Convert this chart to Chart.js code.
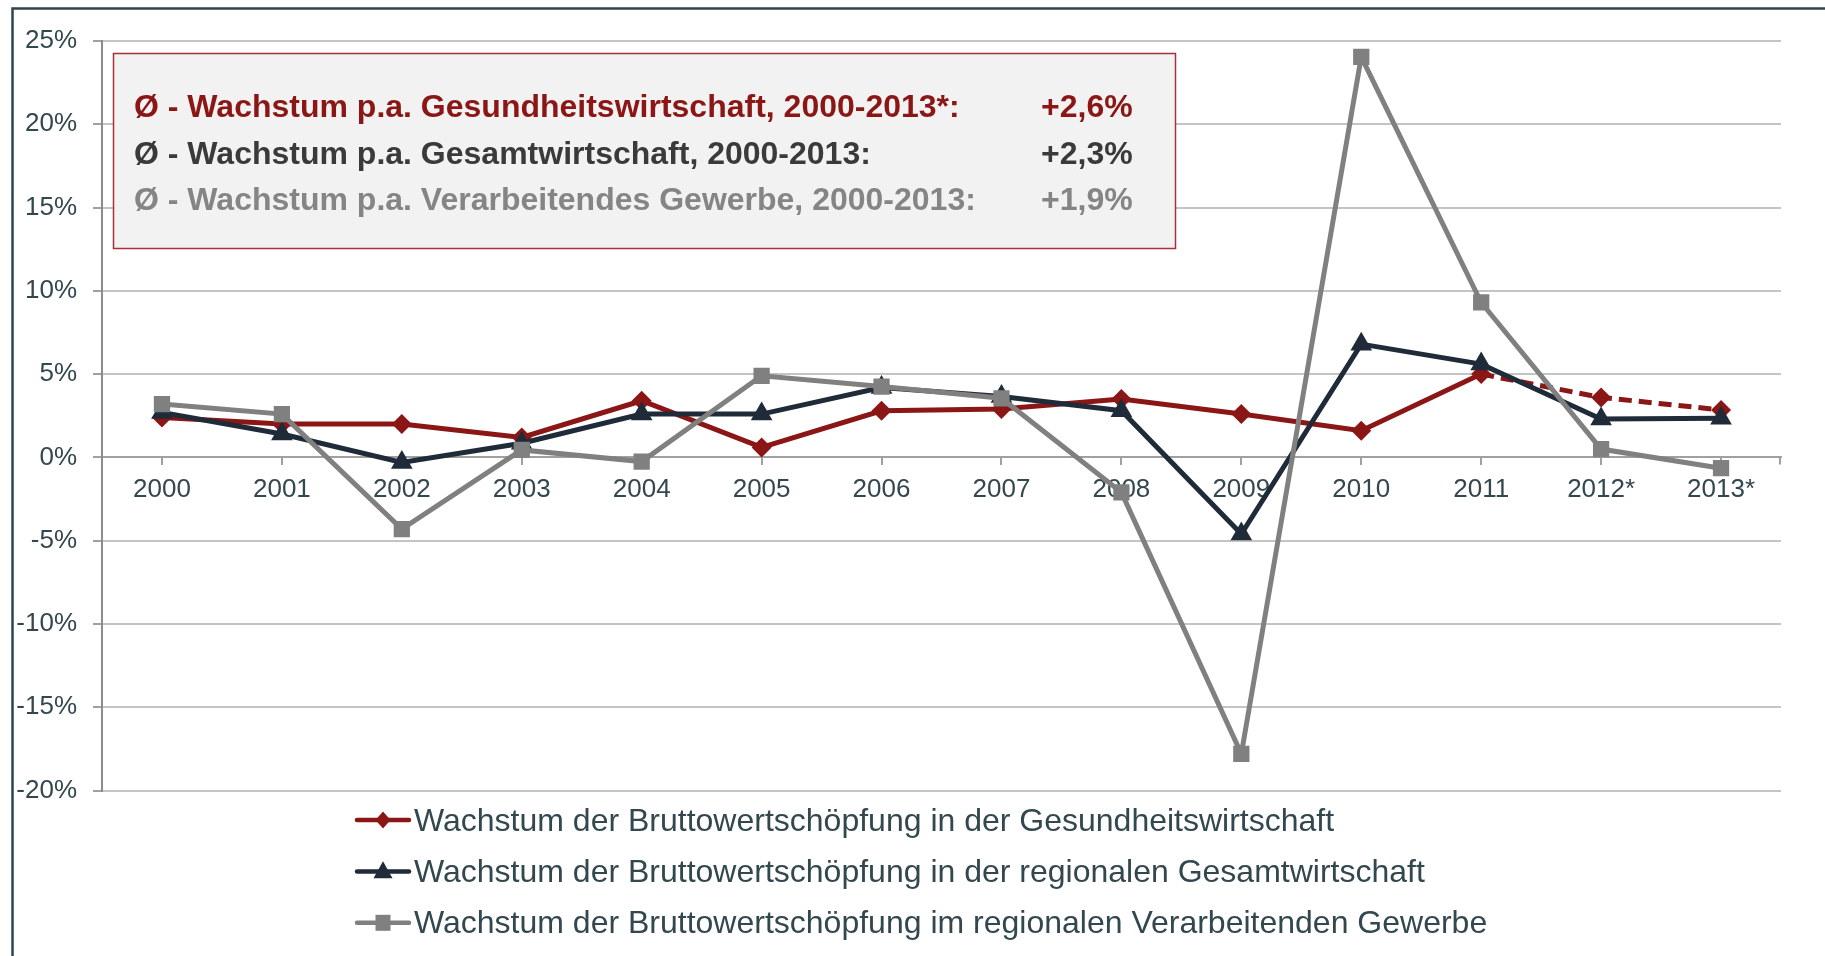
<!DOCTYPE html>
<html>
<head>
<meta charset="utf-8">
<script src="https://cdn.jsdelivr.net/npm/chart.js@4"></script>
<style>
html,body{margin:0;padding:0;background:#fff;}
#wrap{position:relative;width:1825px;height:956px;}
</style>
</head>
<body>
<div id="wrap"><canvas id="c"></canvas></div>
<script>
const categories = ['2000','2001','2002','2003','2004','2005','2006','2007','2008','2009','2010','2011','2012*','2013*'];
const health        = [2.4, 2.0, 2.0, 1.2, 3.4, 0.6, 2.8, 2.9, 3.5, 2.6, 1.6, 5.0, 3.6, 2.85];
const overall       = [2.7, 1.4, -0.3, 0.85, 2.6, 2.6, 4.2, 3.65, 2.8, -4.6, 6.8, 5.6, 2.3, 2.35];
const manufacturing = [3.2, 2.6, -4.3, 0.45, -0.25, 4.9, 4.25, 3.55, -2.1, -17.8, 24.05, 9.3, 0.5, -0.65];
const seriesNames = [
  'Wachstum der Bruttowertschöpfung in der Gesundheitswirtschaft',
  'Wachstum der Bruttowertschöpfung in der regionalen Gesamtwirtschaft',
  'Wachstum der Bruttowertschöpfung im regionalen Verarbeitenden Gewerbe'
];
const avgLabels = [
  'Ø - Wachstum p.a. Gesundheitswirtschaft, 2000-2013*:',
  'Ø - Wachstum p.a. Gesamtwirtschaft, 2000-2013:',
  'Ø - Wachstum p.a. Verarbeitendes Gewerbe, 2000-2013:'
];
const avgValues = ['+2,6%', '+2,3%', '+1,9%'];
const yMin = -20, yMax = 25, yStep = 5;
const projectedFrom = 11; // index from which the health series is dashed

const RED = '#8B1616', NAVY = '#1F2B38', GRAY = '#808080';
const TEXT = '#33474F';
const FONT = '"Liberation Sans", Arial, sans-serif';

function drawMarker(ctx, style, x, y, s, color) {
  ctx.save();
  ctx.fillStyle = color;
  ctx.beginPath();
  if (style === 'diamond') {
    ctx.moveTo(x, y - s.h / 2); ctx.lineTo(x + s.w / 2, y); ctx.lineTo(x, y + s.h / 2); ctx.lineTo(x - s.w / 2, y);
  } else if (style === 'triangle') {
    ctx.moveTo(x, y - s.h * 0.6); ctx.lineTo(x + s.w / 2, y + s.h * 0.4); ctx.lineTo(x - s.w / 2, y + s.h * 0.4);
  } else {
    ctx.rect(x - s.w / 2, y - s.h / 2, s.w, s.h);
  }
  ctx.closePath();
  ctx.fill();
  ctx.restore();
}

const decor = {
  id: 'decor',
  beforeDraw(chart) {
    const ctx = chart.ctx;
    ctx.save();
    ctx.strokeStyle = '#2F4450';
    ctx.lineWidth = 2.5;
    ctx.strokeRect(12.5, 8.5, 1900, 1000);
    ctx.restore();
  },
  beforeDatasetsDraw(chart) {
    const ctx = chart.ctx;
    ctx.save();
    // text box
    ctx.fillStyle = '#F2F2F2';
    ctx.fillRect(113, 53, 1063, 196);
    ctx.strokeStyle = '#A8303C';
    ctx.lineWidth = 1.5;
    ctx.strokeRect(113.5, 53.5, 1062, 195);
    const colors = [RED, '#3A3A3A', '#858585'];
    ctx.font = 'bold 32px ' + FONT;
    ctx.textBaseline = 'alphabetic';
    ctx.textAlign = 'left';
    for (let i = 0; i < avgLabels.length; i++) {
      const yb = 117 + i * 46.7;
      ctx.fillStyle = colors[i];
      ctx.fillText(avgLabels[i], 134, yb);
      ctx.fillText(avgValues[i], 1041, yb);
    }
    // end tick of x axis
    const xs = chart.scales.x, ys = chart.scales.y;
    const y0 = ys.getPixelForValue(0);
    ctx.strokeStyle = '#A0A0A0';
    ctx.lineWidth = 2;
    ctx.beginPath();
    ctx.moveTo(xs.right - 1, y0);
    ctx.lineTo(xs.right - 1, y0 + 7);
    ctx.stroke();
    ctx.restore();
  },
  afterDraw(chart) {
    const ctx = chart.ctx;
    ctx.save();
    const styles = ['diamond', 'triangle', 'square'];
    const sizes = [{w: 15, h: 17}, {w: 19, h: 17}, {w: 15, h: 16}];
    chart.data.datasets.forEach((ds, i) => {
      const yc = 820 + i * 51.4;
      ctx.strokeStyle = ds.borderColor;
      ctx.lineWidth = 4.5;
      ctx.lineCap = 'round';
      ctx.beginPath();
      ctx.moveTo(357, yc);
      ctx.lineTo(409, yc);
      ctx.stroke();
      drawMarker(ctx, styles[i], 383, yc, sizes[i], ds.borderColor);
      ctx.fillStyle = TEXT;
      ctx.font = '32px ' + FONT;
      ctx.textBaseline = 'alphabetic';
      ctx.textAlign = 'left';
      ctx.fillText(ds.label, 414, yc + 10.5);
    });
    ctx.restore();
  }
};

new Chart(document.getElementById('c'), {
  type: 'line',
  data: {
    labels: categories,
    datasets: [
      {
        label: seriesNames[0], data: health, order: 3,
        borderColor: RED, backgroundColor: RED, borderWidth: 5,
        pointStyle: 'rectRot', pointRadius: 10, pointBorderWidth: 0, pointBackgroundColor: RED,
        segment: { borderDash: c => c.p0DataIndex >= projectedFrom ? [13, 7] : undefined },
        tension: 0, fill: false
      },
      {
        label: seriesNames[1], data: overall, order: 2,
        borderColor: NAVY, backgroundColor: NAVY, borderWidth: 5,
        pointStyle: 'triangle', pointRadius: 12.5, pointBorderWidth: 0, pointBackgroundColor: NAVY,
        tension: 0, fill: false
      },
      {
        label: seriesNames[2], data: manufacturing, order: 1,
        borderColor: GRAY, backgroundColor: GRAY, borderWidth: 5,
        pointStyle: 'rect', pointRadius: 11.5, pointBorderWidth: 0, pointBackgroundColor: GRAY,
        tension: 0, fill: false
      }
    ]
  },
  options: {
    responsive: true,
    maintainAspectRatio: false,
    animation: false,
    events: [],
    layout: { padding: { top: 41, bottom: 165.5, right: 44, left: 0 } },
    plugins: { legend: { display: false }, tooltip: { enabled: false } },
    scales: {
      x: {
        type: 'category',
        position: { y: 0 },
        offset: true,
        grid: { offset: false, drawOnChartArea: false, drawTicks: true, tickLength: 7, tickColor: '#A0A0A0', lineWidth: 2 },
        border: { display: true, color: '#A0A0A0', width: 2 },
        ticks: { color: TEXT, font: { family: FONT, size: 26 }, padding: 10, maxRotation: 0, autoSkip: false }
      },
      y: {
        min: yMin, max: yMax,
        afterFit(scale) { scale.width = 102; },
        grid: { color: '#C4C4C4', lineWidth: 2, tickLength: 9, tickColor: '#A0A0A0', drawTicks: true },
        border: { display: true, color: '#8C8C8C', width: 2 },
        ticks: { stepSize: yStep, color: TEXT, font: { family: FONT, size: 26 }, padding: 16, callback: v => v + '%' }
      }
    }
  },
  plugins: [decor]
});
</script>
</body>
</html>
